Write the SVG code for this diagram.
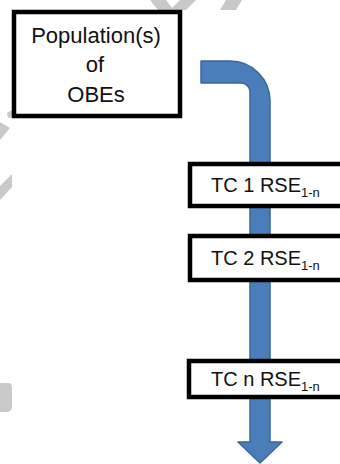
<svg xmlns="http://www.w3.org/2000/svg" width="340" height="464" viewBox="0 0 340 464">
<style>
.box{fill:#fff;stroke:#000;stroke-width:4.5}
.t{font-family:"Liberation Sans",Arial,sans-serif;fill:#111;text-anchor:middle}
.big{font-size:22px}
.tc{font-size:20px;text-anchor:start}
.sub{font-size:13px}
.wm{fill:#c9c9c9}
</style>
<g id="watermark">
<polygon class="wm" points="150,0 166,0 172,8 180,0 196,0 186,10 158,10"/>
<polygon class="wm" points="226,0 242,0 236,10 220,10"/>
<polygon class="wm" points="7,113 12,110 16,116 8,118"/>
<polygon class="wm" points="0,122 10,128 0,140"/>
<polygon class="wm" points="12,174 12,187 0,200 0,186"/>
<path class="wm" d="M0,383 L8,383 Q12,383 12,388 L12,406 Q12,412 6,412 L0,412 Z"/>
</g>
<g id="connectors">
<path d="M201,61 L230,61 A40,40 0 0 1 270,101 L270,442 L282,442 L260,463 L238,442 L250,442 L250,92 A9,9 0 0 0 241,83 L201,83 Z" fill="#4a7ebb" stroke="#3a669c" stroke-width="1.5" stroke-linejoin="round"/>
</g>
<g id="population">
<rect class="box" x="14" y="12" width="166" height="104"/>
<text class="t big" x="96" y="43">Population(s)</text>
<text class="t big" x="95" y="72">of</text>
<text class="t big" x="96" y="102">OBEs</text>
</g>
<g id="tc1">
<rect class="box" x="190" y="164" width="160" height="42"/>
<text class="t tc" x="211" y="192">TC 1 RSE<tspan class="sub" dy="5">1-n</tspan></text>
</g>
<g id="tc2">
<rect class="box" x="190" y="236" width="160" height="44"/>
<text class="t tc" x="211" y="265">TC 2 RSE<tspan class="sub" dy="5">1-n</tspan></text>
</g>
<g id="tcn">
<rect class="box" x="189" y="361" width="160" height="36"/>
<text class="t tc" x="211" y="386">TC n RSE<tspan class="sub" dy="5">1-n</tspan></text>
</g>
</svg>
